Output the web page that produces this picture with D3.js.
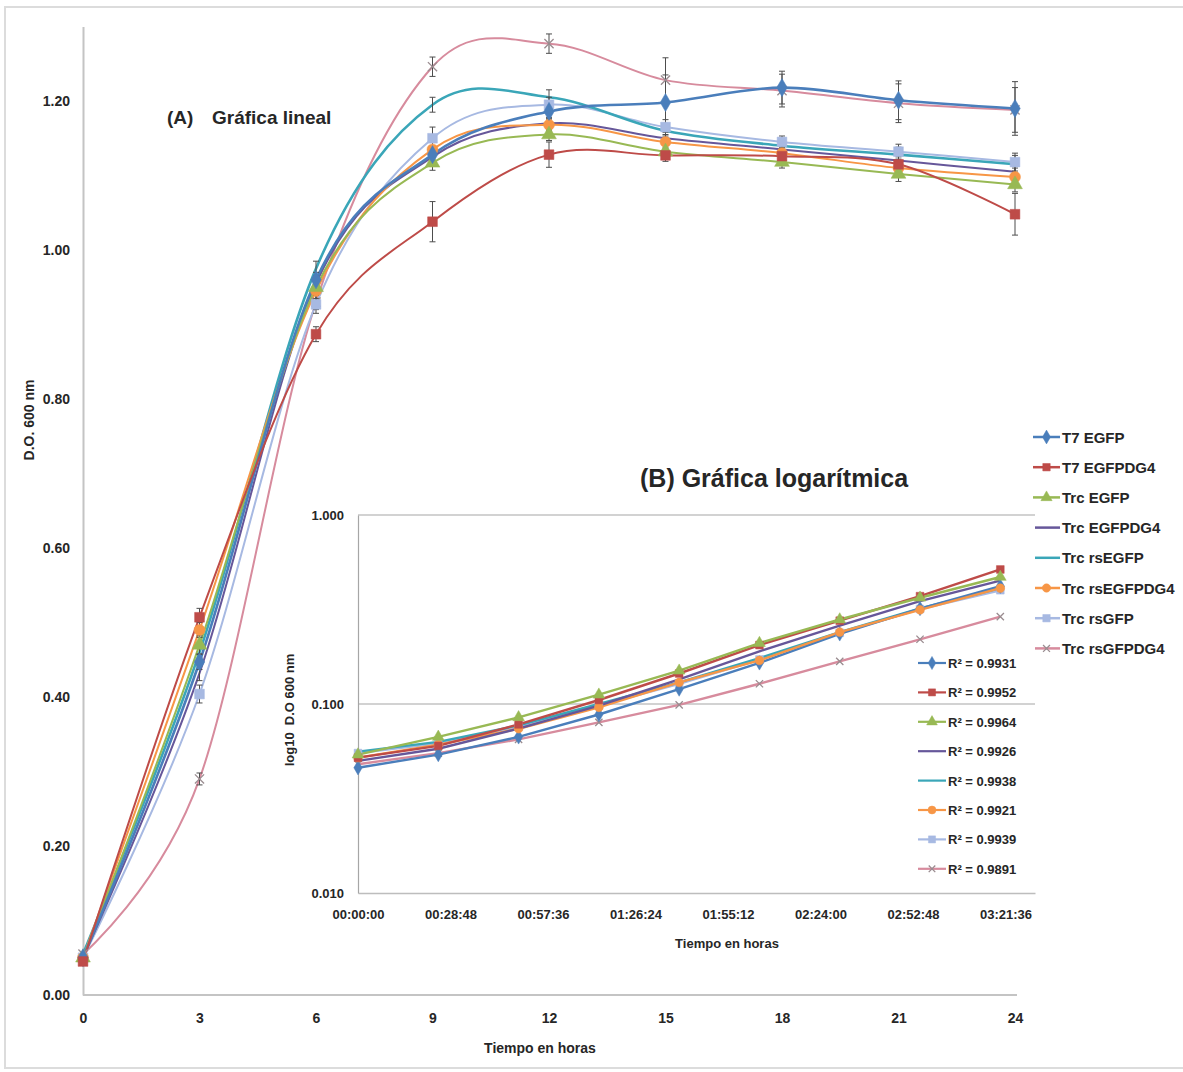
<!DOCTYPE html>
<html>
<head>
<meta charset="utf-8">
<script src="https://cdn.jsdelivr.net/npm/d3@7"></script>
<style>
  html, body { margin: 0; padding: 0; background: #fff; }
  svg text { font-family: "Liberation Sans Narrow", "Arial Narrow", "Liberation Sans", sans-serif; font-weight: bold; fill: #262626; }
</style>
</head>
<body>
<svg id="chart" width="1183" height="1072"></svg>
<script>
// ---- Linear growth curves (hours vs D.O. 600 nm) ----
const hours = [0, 3, 6, 9, 12, 15, 18, 21, 24];
const seriesNames = ["T7 EGFP", "T7 EGFPDG4", "Trc EGFP", "Trc EGFPDG4", "Trc rsEGFP", "Trc rsEGFPDG4", "Trc rsGFP", "Trc rsGFPDG4"];
const seriesColors = ["#4A7EBB", "#BE4B48", "#98B954", "#66579A", "#3AA6B8", "#F79646", "#A7B9E2", "#D78B9D"];
const seriesMarkers = ["diamond", "square", "triangle", "none", "none", "circle", "square", "x"];

const t7Egfp        = [0.050, 0.447, 0.960, 1.128, 1.186, 1.198, 1.218, 1.201, 1.190];
const t7EgfpDg4     = [0.045, 0.507, 0.887, 1.038, 1.128, 1.127, 1.126, 1.115, 1.048];
const trcEgfp       = [0.050, 0.470, 0.950, 1.117, 1.155, 1.132, 1.118, 1.102, 1.088];
const trcEgfpDg4    = [0.050, 0.432, 0.955, 1.125, 1.170, 1.150, 1.135, 1.120, 1.105];
const trcRsEgfp     = [0.055, 0.460, 0.975, 1.195, 1.205, 1.160, 1.140, 1.128, 1.115];
const trcRsEgfpDg4  = [0.050, 0.490, 0.945, 1.135, 1.168, 1.145, 1.130, 1.110, 1.098];
const trcRsGfp      = [0.050, 0.404, 0.927, 1.150, 1.195, 1.165, 1.145, 1.132, 1.118];
const trcRsGfpDg4   = [0.055, 0.290, 0.930, 1.246, 1.277, 1.228, 1.214, 1.197, 1.188];

// standard deviations for the error bars
const t7EgfpErr       = [0, 0.010, 0.010, 0.010, 0.010, 0.037, 0.022, 0.026, 0.036];
const t7EgfpDg4Err    = [0, 0.012, 0.010, 0.027, 0.017, 0.008, 0.008, 0.010, 0.028];
const trcEgfpErr      = [0, 0.012, 0.010, 0.010, 0.008, 0.008, 0.008, 0.010, 0.010];
const trcEgfpDg4Err   = [0, 0.010, 0.010, 0.010, 0.008, 0.008, 0.008, 0.008, 0.010];
const trcRsEgfpErr    = [0, 0.010, 0.010, 0.010, 0.010, 0.010, 0.008, 0.010, 0.012];
const trcRsEgfpDg4Err = [0, 0.010, 0.010, 0.010, 0.008, 0.008, 0.008, 0.010, 0.012];
const trcRsGfpErr     = [0, 0.012, 0.012, 0.015, 0.010, 0.010, 0.008, 0.010, 0.012];
const trcRsGfpDg4Err  = [0, 0.008, 0.010, 0.013, 0.013, 0.030, 0.022, 0.026, 0.030];

const linearValues = [t7Egfp, t7EgfpDg4, trcEgfp, trcEgfpDg4, trcRsEgfp, trcRsEgfpDg4, trcRsGfp, trcRsGfpDg4];
const linearErrors = [t7EgfpErr, t7EgfpDg4Err, trcEgfpErr, trcEgfpDg4Err, trcRsEgfpErr, trcRsEgfpDg4Err, trcRsGfpErr, trcRsGfpDg4Err];
const linearYTicks = [0, 0.2, 0.4, 0.6, 0.8, 1.0, 1.2];

// ---- Exponential phase on a log scale (minutes vs D.O. 600 nm) ----
const minutes = [0, 25, 50, 75, 100, 125, 150, 175, 200];
const logT7Egfp       = [0.046, 0.054, 0.067, 0.088, 0.120, 0.165, 0.235, 0.320, 0.420];
const logT7EgfpDg4    = [0.052, 0.060, 0.078, 0.105, 0.145, 0.205, 0.276, 0.372, 0.515];
const logTrcEgfp      = [0.054, 0.067, 0.085, 0.112, 0.150, 0.210, 0.280, 0.365, 0.470];
const logTrcEgfpDg4   = [0.050, 0.058, 0.074, 0.098, 0.135, 0.190, 0.260, 0.350, 0.450];
const logTrcRsEgfp    = [0.056, 0.063, 0.077, 0.100, 0.130, 0.175, 0.240, 0.320, 0.410];
const logTrcRsEgfpDg4 = [0.052, 0.061, 0.074, 0.096, 0.130, 0.170, 0.240, 0.315, 0.410];
const logTrcRsGfp     = [0.055, 0.062, 0.076, 0.098, 0.128, 0.172, 0.238, 0.318, 0.400];
const logTrcRsGfpDg4  = [0.048, 0.055, 0.065, 0.080, 0.099, 0.128, 0.168, 0.220, 0.290];
const logValues = [logT7Egfp, logT7EgfpDg4, logTrcEgfp, logTrcEgfpDg4, logTrcRsEgfp, logTrcRsEgfpDg4, logTrcRsGfp, logTrcRsGfpDg4];
const rSquared = ["0.9931", "0.9952", "0.9964", "0.9926", "0.9938", "0.9921", "0.9939", "0.9891"];
const logXTicks = [0, 28.8, 57.6, 86.4, 115.2, 144, 172.8, 201.6];   // minutes
const logYTicks = [0.01, 0.1, 1];

const svg = d3.select("#chart");

// outer frame
svg.append("rect").attr("x", 5).attr("y", 7).attr("width", 1190).attr("height", 1061)
  .attr("fill", "#fff").attr("stroke", "#dcdcdc").attr("stroke-width", 2);

function symbolFor(name) {
  return {diamond: d3.symbolDiamond, square: d3.symbolSquare, triangle: d3.symbolTriangle,
          circle: d3.symbolCircle, x: d3.symbolX}[name];
}
function drawMarker(g, name, color, x, y, size) {
  if (name === "none") return;
  const isStroke = name === "x";
  g.append("path")
    .attr("d", d3.symbol().type(symbolFor(name)).size(isStroke ? size * 0.6 : size)())
    .attr("transform", `translate(${x},${y})`)
    .attr("fill", isStroke ? "none" : color)
    .attr("stroke", isStroke ? "#9a8c90" : color)
    .attr("stroke-width", isStroke ? 1.3 : 0.5);
}

// ================= Linear chart =================
const x = d3.scaleLinear().domain([0, 24]).range([83, 1015]);
const y = d3.scaleLinear().domain([0, 1.3]).range([995, 26.5]);

const main = svg.append("g");
// axes
const xAxis = main.append("g").attr("transform", "translate(0,995)")
  .call(d3.axisBottom(x).tickValues(hours).tickSize(0).tickPadding(18).tickFormat(d3.format("d")));
xAxis.select(".domain").attr("stroke", "#c4c4c4").attr("stroke-width", 2).attr("d", "M83,0H1017");
xAxis.selectAll("text").attr("font-size", 14).attr("fill", "#262626");

const yAxis = main.append("g").attr("transform", "translate(83,0)")
  .call(d3.axisLeft(y).tickValues(linearYTicks).tickSize(0).tickPadding(13).tickFormat(d3.format(".2f")));
yAxis.select(".domain").attr("stroke", "#c4c4c4").attr("stroke-width", 2);
yAxis.selectAll("text").attr("font-size", 14).attr("fill", "#262626");

main.append("text").attr("x", 540).attr("y", 1053).attr("text-anchor", "middle")
  .attr("font-size", 14).text("Tiempo en horas");
main.append("text").attr("transform", "translate(34,420) rotate(-90)").attr("text-anchor", "middle")
  .attr("font-size", 14).text("D.O. 600 nm");
main.append("text").attr("x", 167).attr("y", 124).attr("font-size", 19).text("(A)");
main.append("text").attr("x", 212).attr("y", 124).attr("font-size", 19).text("Gráfica lineal");

const smooth = d3.line().x(d => x(d[0])).y(d => y(d[1])).curve(d3.curveCardinal.tension(0));
const drawOrder = [7, 6, 4, 3, 5, 2, 0, 1];
drawOrder.forEach(i => {
  const pts = hours.map((h, k) => [h, linearValues[i][k]]);
  main.append("path").attr("d", smooth(pts)).attr("fill", "none")
    .attr("stroke", seriesColors[i]).attr("stroke-width", i === 4 || i === 0 ? 2.6 : 2);
});
// error bars
drawOrder.forEach(i => {
  hours.forEach((h, k) => {
    const e = linearErrors[i][k];
    if (!e) return;
    const cx = x(h), y0 = y(linearValues[i][k] - e), y1 = y(linearValues[i][k] + e);
    const eb = main.append("g").attr("stroke", "#4d4d4d").attr("stroke-width", 1);
    eb.append("line").attr("x1", cx).attr("x2", cx).attr("y1", y0).attr("y2", y1);
    eb.append("line").attr("x1", cx - 3).attr("x2", cx + 3).attr("y1", y0).attr("y2", y0);
    eb.append("line").attr("x1", cx - 3).attr("x2", cx + 3).attr("y1", y1).attr("y2", y1);
  });
});
// markers
drawOrder.forEach(i => {
  hours.forEach((h, k) => drawMarker(main, seriesMarkers[i], seriesColors[i], x(h), y(linearValues[i][k]), 95));
});

// legend
const legend = svg.append("g");
seriesNames.forEach((name, i) => {
  const ly = 437 + i * 30.2;
  legend.append("line").attr("x1", 1033).attr("x2", 1060).attr("y1", ly).attr("y2", ly)
    .attr("stroke", seriesColors[i]).attr("stroke-width", 2.5);
  drawMarker(legend, seriesMarkers[i], seriesColors[i], 1046.5, ly, 55);
  legend.append("text").attr("x", 1062).attr("y", ly + 5.5).attr("font-size", 15).text(name);
});

// ================= Log-scale inset =================
const lx = d3.scaleLinear().domain([0, 210.8]).range([358, 1035]);
const ly = d3.scaleLog().domain([0.01, 1]).range([893, 515]);
const inset = svg.append("g");

inset.append("rect").attr("x", 358).attr("y", 515).attr("width", 677).attr("height", 378).attr("fill", "#fff");
// gridlines
logYTicks.filter(v => v > 0.01).forEach(v => {
  inset.append("line").attr("x1", 358).attr("x2", 1035).attr("y1", ly(v)).attr("y2", ly(v))
    .attr("stroke", "#a6a6a6").attr("stroke-width", 1.2);
});
const fmtTime = m => {
  const s = Math.round(m * 60);
  const hh = Math.floor(s / 3600), mm = Math.floor((s % 3600) / 60), ss = s % 60;
  return [hh, mm, ss].map(v => String(v).padStart(2, "0")).join(":");
};
const lxAxis = inset.append("g").attr("transform", "translate(0,893)")
  .call(d3.axisBottom(lx).tickValues(logXTicks).tickSize(0).tickPadding(17).tickFormat(fmtTime));
lxAxis.select(".domain").attr("stroke", "#bdbdbd").attr("stroke-width", 1.5);
lxAxis.selectAll("text").attr("font-size", 13).attr("fill", "#262626");

const lyAxis = inset.append("g").attr("transform", "translate(358,0)")
  .call(d3.axisLeft(ly).tickValues(logYTicks).tickSize(0).tickPadding(14).tickFormat(d3.format(".3f")));
lyAxis.select(".domain").attr("stroke", "#a6a6a6").attr("stroke-width", 1.2);
lyAxis.selectAll("text").attr("font-size", 13).attr("fill", "#262626");

inset.append("text").attr("x", 727).attr("y", 948).attr("text-anchor", "middle")
  .attr("font-size", 13).text("Tiempo en horas");
inset.append("text").attr("transform", "translate(294,710) rotate(-90)").attr("text-anchor", "middle")
  .attr("font-size", 13).attr("xml:space", "preserve").text("log10  D.O 600 nm");
inset.append("text").attr("x", 640).attr("y", 487).attr("font-size", 25).text("(B) Gráfica logarítmica");

const straight = d3.line().x(d => lx(d[0])).y(d => ly(d[1]));
const logOrder = [7, 6, 4, 0, 5, 3, 1, 2];
logOrder.forEach(i => {
  const pts = minutes.map((m, k) => [m, logValues[i][k]]);
  inset.append("path").attr("d", straight(pts)).attr("fill", "none")
    .attr("stroke", seriesColors[i]).attr("stroke-width", 2.4);
});
logOrder.forEach(i => {
  minutes.forEach((m, k) => drawMarker(inset, seriesMarkers[i], seriesColors[i], lx(m), ly(logValues[i][k]), 60));
});

// R² legend
rSquared.forEach((r, i) => {
  const ry = 663 + i * 29.4;
  inset.append("line").attr("x1", 918).attr("x2", 946).attr("y1", ry).attr("y2", ry)
    .attr("stroke", seriesColors[i]).attr("stroke-width", 2.2);
  drawMarker(inset, seriesMarkers[i], seriesColors[i], 932, ry, 50);
  inset.append("text").attr("x", 948).attr("y", ry + 5).attr("font-size", 13).text("R² = " + r);
});
</script>
</body>
</html>
